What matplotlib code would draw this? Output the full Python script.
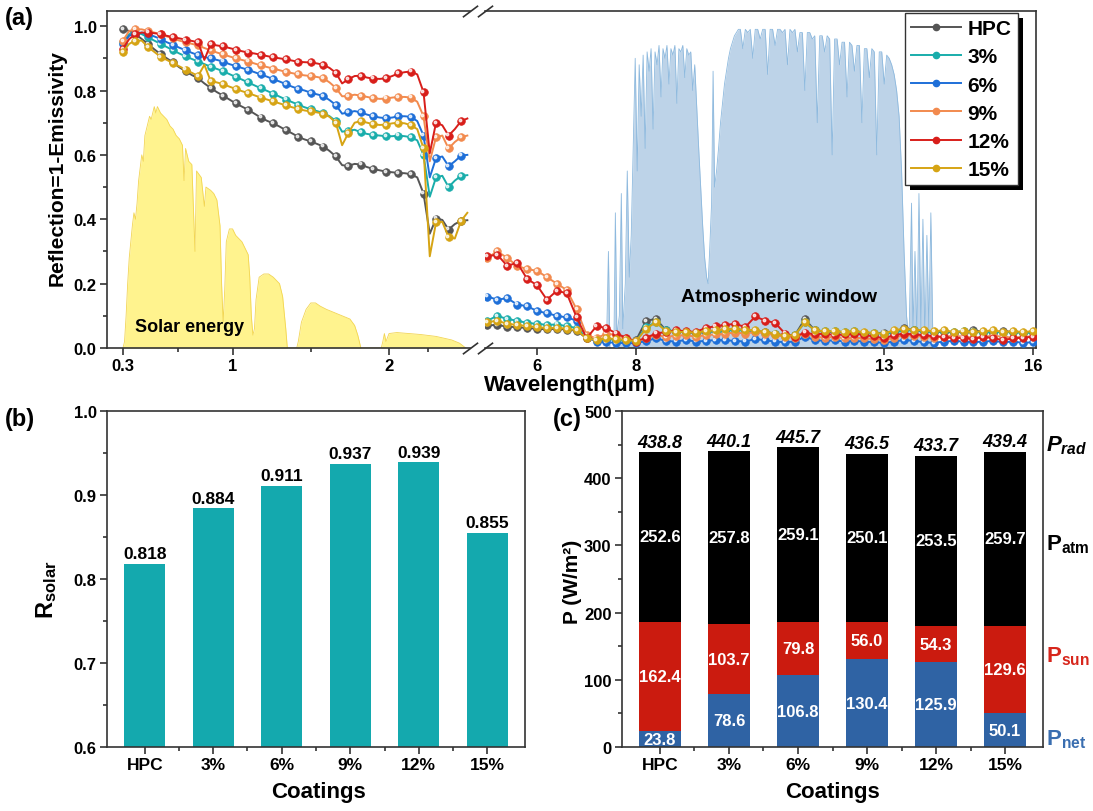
import matplotlib
matplotlib.use('Agg')
import numpy as np
import matplotlib.pyplot as plt
from matplotlib.lines import Line2D
from matplotlib.patches import Rectangle
from matplotlib.transforms import offset_copy, blended_transform_factory

plt.rcParams['font.family'] = ['Liberation Sans', 'DejaVu Sans']
plt.rcParams['font.weight'] = 'bold'
plt.rcParams['mathtext.fontset'] = 'custom'
plt.rcParams['mathtext.rm'] = 'Liberation Sans:bold'
plt.rcParams['mathtext.it'] = 'Liberation Sans:italic:bold'
plt.rcParams['mathtext.bf'] = 'Liberation Sans:bold'

# ---------------- data ----------------
names = ['HPC', '3%', '6%', '9%', '12%', '15%']
colors = ['#555555', '#19ADAB', '#1E6FD8', '#F28A4E', '#D81E1A', '#D6A414']

wl_left = [0.30, 0.34, 0.38, 0.42, 0.46, 0.50, 0.54, 0.58, 0.62, 0.66,
           0.70, 0.74, 0.78, 0.82, 0.86, 0.90, 0.94, 0.98, 1.02, 1.06,
           1.10, 1.14, 1.18, 1.22, 1.26, 1.30, 1.34, 1.38, 1.42, 1.46,
           1.50, 1.54, 1.58, 1.62, 1.66, 1.70, 1.74, 1.78, 1.82, 1.86,
           1.90, 1.94, 1.98, 2.02, 2.06, 2.10, 2.14, 2.18, 2.22, 2.26,
           2.30, 2.34, 2.38, 2.42, 2.46, 2.50]

hpc_left = [0.990, 0.985, 0.975, 0.960, 0.945, 0.928, 0.913, 0.900, 0.887, 0.872,
            0.860, 0.848, 0.838, 0.822, 0.808, 0.795, 0.784, 0.772, 0.760, 0.750,
            0.740, 0.728, 0.716, 0.706, 0.698, 0.688, 0.677, 0.667, 0.656, 0.648,
            0.642, 0.634, 0.626, 0.612, 0.595, 0.568, 0.566, 0.572, 0.570, 0.562,
            0.556, 0.552, 0.548, 0.546, 0.544, 0.543, 0.540, 0.530, 0.480, 0.355,
            0.402, 0.398, 0.368, 0.385, 0.395, 0.397]
p3_left = [0.950, 0.975, 0.980, 0.975, 0.965, 0.955, 0.945, 0.935, 0.925, 0.915,
           0.906, 0.898, 0.890, 0.882, 0.874, 0.867, 0.860, 0.851, 0.842, 0.834,
           0.825, 0.816, 0.807, 0.799, 0.790, 0.781, 0.772, 0.764, 0.756, 0.748,
           0.742, 0.736, 0.730, 0.720, 0.705, 0.672, 0.675, 0.678, 0.670, 0.665,
           0.662, 0.660, 0.658, 0.658, 0.660, 0.658, 0.655, 0.645, 0.600, 0.470,
           0.530, 0.535, 0.500, 0.520, 0.535, 0.537]
p6_left = [0.945, 0.970, 0.978, 0.980, 0.975, 0.968, 0.960, 0.950, 0.942, 0.933,
           0.925, 0.917, 0.910, 0.904, 0.900, 0.895, 0.890, 0.882, 0.876, 0.870,
           0.864, 0.857, 0.850, 0.843, 0.835, 0.828, 0.820, 0.812, 0.805, 0.800,
           0.793, 0.788, 0.783, 0.770, 0.755, 0.728, 0.732, 0.736, 0.732, 0.725,
           0.720, 0.716, 0.714, 0.716, 0.720, 0.720, 0.718, 0.705, 0.660, 0.530,
           0.590, 0.595, 0.565, 0.580, 0.598, 0.600]
p9_left = [0.955, 0.985, 0.990, 0.990, 0.985, 0.980, 0.975, 0.968, 0.962, 0.955,
           0.950, 0.945, 0.940, 0.932, 0.925, 0.918, 0.912, 0.906, 0.900, 0.895,
           0.890, 0.884, 0.878, 0.873, 0.868, 0.863, 0.858, 0.854, 0.850, 0.847,
           0.845, 0.842, 0.838, 0.825, 0.808, 0.782, 0.783, 0.787, 0.784, 0.780,
           0.776, 0.774, 0.775, 0.778, 0.780, 0.780, 0.778, 0.765, 0.720, 0.580,
           0.655, 0.660, 0.620, 0.640, 0.655, 0.660]
p12_left = [0.930, 0.960, 0.975, 0.980, 0.980, 0.978, 0.975, 0.970, 0.966, 0.962,
            0.958, 0.954, 0.950, 0.895, 0.944, 0.940, 0.937, 0.932, 0.927, 0.922,
            0.918, 0.915, 0.911, 0.907, 0.903, 0.900, 0.897, 0.893, 0.889, 0.888,
            0.887, 0.884, 0.880, 0.870, 0.855, 0.822, 0.835, 0.845, 0.846, 0.840,
            0.837, 0.836, 0.838, 0.845, 0.853, 0.857, 0.859, 0.850, 0.795, 0.605,
            0.700, 0.692, 0.660, 0.680, 0.705, 0.713]
p15_left = [0.920, 0.945, 0.955, 0.955, 0.935, 0.920, 0.905, 0.895, 0.885, 0.875,
            0.865, 0.855, 0.845, 0.880, 0.830, 0.825, 0.820, 0.812, 0.805, 0.798,
            0.792, 0.785, 0.778, 0.772, 0.766, 0.760, 0.754, 0.748, 0.743, 0.738,
            0.735, 0.732, 0.728, 0.718, 0.700, 0.630, 0.668, 0.700, 0.705, 0.700,
            0.695, 0.693, 0.694, 0.698, 0.700, 0.698, 0.692, 0.680, 0.620, 0.285,
            0.390, 0.392, 0.345, 0.340, 0.395, 0.420]

wl_right = [5.0, 5.2, 5.4, 5.6, 5.8, 6.0, 6.2, 6.4, 6.6, 6.8,
            7.0, 7.2, 7.4, 7.6, 7.8, 8.0, 8.2, 8.4, 8.6, 8.8,
            9.0, 9.2, 9.4, 9.6, 9.8, 10.0, 10.2, 10.4, 10.6, 10.8,
            11.0, 11.2, 11.4, 11.6, 11.8, 12.0, 12.2, 12.4, 12.6, 12.8,
            13.0, 13.2, 13.4, 13.6, 13.8, 14.0, 14.2, 14.4, 14.6, 14.8,
            15.0, 15.2, 15.4, 15.6, 15.8, 16.0]

hpc_right = [0.070, 0.072, 0.066, 0.065, 0.062, 0.060, 0.058, 0.060, 0.057, 0.054,
             0.030, 0.024, 0.028, 0.026, 0.022, 0.025, 0.085, 0.090, 0.055, 0.050,
             0.050, 0.046, 0.050, 0.052, 0.055, 0.058, 0.055, 0.052, 0.050, 0.045,
             0.038, 0.040, 0.090, 0.055, 0.050, 0.050, 0.048, 0.050, 0.046, 0.045,
             0.048, 0.050, 0.062, 0.055, 0.052, 0.050, 0.050, 0.048, 0.050, 0.055,
             0.050, 0.048, 0.052, 0.050, 0.048, 0.050]
p3_right = [0.085, 0.100, 0.090, 0.085, 0.078, 0.075, 0.072, 0.073, 0.068, 0.062,
            0.032, 0.025, 0.028, 0.026, 0.022, 0.022, 0.065, 0.080, 0.055, 0.052,
            0.050, 0.048, 0.050, 0.052, 0.054, 0.056, 0.054, 0.052, 0.048, 0.042,
            0.036, 0.040, 0.080, 0.055, 0.052, 0.052, 0.050, 0.052, 0.048, 0.046,
            0.045, 0.048, 0.055, 0.055, 0.052, 0.050, 0.052, 0.050, 0.052, 0.050,
            0.048, 0.050, 0.048, 0.050, 0.046, 0.048]
p6_right = [0.160, 0.150, 0.155, 0.135, 0.130, 0.115, 0.108, 0.100, 0.095, 0.085,
            0.035, 0.020, 0.018, 0.016, 0.015, 0.015, 0.022, 0.030, 0.022, 0.020,
            0.025, 0.020, 0.022, 0.025, 0.024, 0.022, 0.020, 0.028, 0.024, 0.020,
            0.018, 0.020, 0.035, 0.025, 0.022, 0.024, 0.020, 0.022, 0.020, 0.018,
            0.016, 0.020, 0.025, 0.022, 0.018, 0.016, 0.020, 0.022, 0.020, 0.018,
            0.020, 0.022, 0.018, 0.020, 0.016, 0.018]
p9_right = [0.280, 0.300, 0.280, 0.255, 0.245, 0.240, 0.220, 0.200, 0.180, 0.120,
            0.040, 0.030, 0.045, 0.040, 0.030, 0.022, 0.030, 0.040, 0.035, 0.038,
            0.040, 0.035, 0.040, 0.042, 0.045, 0.048, 0.045, 0.050, 0.045, 0.040,
            0.035, 0.032, 0.045, 0.035, 0.032, 0.035, 0.030, 0.032, 0.030, 0.028,
            0.025, 0.032, 0.040, 0.038, 0.035, 0.032, 0.035, 0.038, 0.035, 0.032,
            0.035, 0.038, 0.035, 0.032, 0.035, 0.036]
p12_right = [0.285, 0.290, 0.255, 0.265, 0.215, 0.195, 0.150, 0.178, 0.170, 0.095,
             0.030, 0.068, 0.062, 0.045, 0.032, 0.020, 0.032, 0.045, 0.050, 0.055,
             0.052, 0.050, 0.062, 0.068, 0.072, 0.075, 0.065, 0.098, 0.085, 0.078,
             0.045, 0.035, 0.048, 0.042, 0.045, 0.040, 0.042, 0.045, 0.040, 0.036,
             0.030, 0.040, 0.045, 0.042, 0.040, 0.036, 0.035, 0.030, 0.032, 0.028,
             0.035, 0.030, 0.025, 0.030, 0.032, 0.035]
p15_right = [0.080, 0.085, 0.075, 0.072, 0.068, 0.065, 0.062, 0.063, 0.060, 0.055,
             0.030, 0.025, 0.030, 0.028, 0.025, 0.022, 0.060, 0.080, 0.052, 0.050,
             0.050, 0.048, 0.052, 0.055, 0.058, 0.060, 0.056, 0.055, 0.050, 0.045,
             0.038, 0.040, 0.080, 0.055, 0.052, 0.052, 0.050, 0.052, 0.050, 0.046,
             0.045, 0.055, 0.060, 0.056, 0.055, 0.052, 0.055, 0.050, 0.052, 0.050,
             0.052, 0.055, 0.050, 0.052, 0.050, 0.052]

left_sets = [hpc_left, p3_left, p6_left, p9_left, p12_left, p15_left]
right_sets = [hpc_right, p3_right, p6_right, p9_right, p12_right, p15_right]

# solar spectrum (normalised, drawn as the yellow background)
solar_wl = [0.30, 0.31, 0.32, 0.33, 0.34, 0.35, 0.36, 0.37, 0.38, 0.39,
            0.40, 0.41, 0.42, 0.43, 0.44, 0.45, 0.46, 0.47, 0.48, 0.49,
            0.50, 0.51, 0.52, 0.53, 0.54, 0.56, 0.58, 0.60, 0.62, 0.64,
            0.66, 0.68, 0.69, 0.70, 0.72, 0.74, 0.76, 0.77, 0.80, 0.82,
            0.83, 0.86, 0.88, 0.90, 0.92, 0.93, 0.94, 0.95, 0.96, 0.98,
            1.00, 1.02, 1.04, 1.06, 1.08, 1.10, 1.11, 1.12, 1.13, 1.14,
            1.15, 1.17, 1.20, 1.23, 1.26, 1.28, 1.30, 1.32, 1.34, 1.35,
            1.41, 1.42, 1.44, 1.47, 1.50, 1.53, 1.56, 1.60, 1.65, 1.70,
            1.75, 1.78, 1.80, 1.82, 1.95, 1.96, 1.97, 1.98, 2.00, 2.05,
            2.10, 2.20, 2.30, 2.40, 2.45, 2.49]
solar_irr = [0.00, 0.02, 0.10, 0.20, 0.28, 0.33, 0.38, 0.42, 0.40, 0.45,
             0.52, 0.56, 0.60, 0.58, 0.66, 0.68, 0.70, 0.72, 0.71, 0.73,
             0.75, 0.73, 0.75, 0.74, 0.73, 0.72, 0.71, 0.69, 0.68, 0.66,
             0.65, 0.63, 0.52, 0.62, 0.58, 0.57, 0.30, 0.55, 0.53, 0.44,
             0.50, 0.49, 0.48, 0.46, 0.38, 0.20, 0.08, 0.18, 0.33, 0.37,
             0.37, 0.35, 0.34, 0.33, 0.31, 0.29, 0.22, 0.10, 0.04, 0.06,
             0.15, 0.22, 0.23, 0.23, 0.22, 0.21, 0.20, 0.16, 0.06, 0.00,
             0.00, 0.02, 0.08, 0.12, 0.14, 0.14, 0.13, 0.12, 0.11, 0.10,
             0.09, 0.07, 0.04, 0.00, 0.00, 0.02, 0.045, 0.02, 0.045, 0.048,
             0.046, 0.042, 0.036, 0.025, 0.015, 0.00]

# atmospheric transmittance (blue background)
atm_wl = [7.30, 7.40, 7.44, 7.47, 7.55, 7.58, 7.61, 7.66, 7.70, 7.73,
          7.78, 7.82, 7.86, 7.90, 7.94, 7.98, 8.02, 8.06, 8.10, 8.14,
          8.18, 8.22, 8.26, 8.30, 8.34, 8.38, 8.42, 8.46, 8.50, 8.54,
          8.58, 8.62, 8.66, 8.70, 8.74, 8.78, 8.82, 8.86, 8.90, 8.94,
          8.98, 9.02, 9.06, 9.10, 9.14, 9.18, 9.22, 9.26, 9.30, 9.34,
          9.38, 9.42, 9.45, 9.48, 9.52, 9.55, 9.58, 9.62, 9.66, 9.70,
          9.74, 9.78, 9.82, 9.86, 9.90, 9.94, 9.98, 10.02, 10.06, 10.10,
          10.15, 10.20, 10.25, 10.30, 10.35, 10.40, 10.45, 10.50, 10.55, 10.60,
          10.65, 10.70, 10.75, 10.80, 10.85, 10.90, 10.95, 11.00, 11.05, 11.10,
          11.15, 11.20, 11.25, 11.30, 11.35, 11.40, 11.45, 11.50, 11.55, 11.60,
          11.65, 11.70, 11.75, 11.80, 11.85, 11.90, 11.95, 12.00, 12.05, 12.10,
          12.15, 12.20, 12.25, 12.30, 12.35, 12.40, 12.45, 12.50, 12.55, 12.60,
          12.65, 12.70, 12.75, 12.80, 12.85, 12.90, 12.95, 13.00, 13.05, 13.10,
          13.15, 13.20, 13.25, 13.30, 13.35, 13.40, 13.45, 13.50, 13.55, 13.58,
          13.62, 13.66, 13.70, 13.74, 13.78, 13.82, 13.86, 13.90, 13.94, 13.98,
          14.02]
atm_trans = [0.00, 0.00, 0.30, 0.00, 0.00, 0.42, 0.04, 0.10, 0.48, 0.06,
             0.20, 0.55, 0.22, 0.35, 0.62, 0.90, 0.55, 0.88, 0.72, 0.91,
             0.62, 0.92, 0.86, 0.93, 0.68, 0.92, 0.88, 0.94, 0.78, 0.93,
             0.90, 0.94, 0.82, 0.93, 0.91, 0.94, 0.76, 0.93, 0.92, 0.94,
             0.84, 0.93, 0.91, 0.92, 0.80, 0.88, 0.75, 0.62, 0.50, 0.38,
             0.28, 0.22, 0.20, 0.30, 0.45, 0.86, 0.50, 0.55, 0.62, 0.70,
             0.76, 0.82, 0.86, 0.90, 0.93, 0.95, 0.97, 0.98, 0.99, 0.99,
             0.93, 0.99, 0.98, 0.99, 0.90, 0.99, 0.99, 0.96, 0.99, 0.99,
             0.85, 0.99, 0.99, 0.94, 0.99, 0.99, 0.98, 0.99, 0.88, 0.99,
             0.98, 0.99, 0.92, 0.98, 0.98, 0.80, 0.98, 0.98, 0.96, 0.97,
             0.70, 0.97, 0.97, 0.92, 0.97, 0.96, 0.60, 0.96, 0.96, 0.88,
             0.95, 0.95, 0.78, 0.95, 0.94, 0.86, 0.94, 0.94, 0.70, 0.93,
             0.93, 0.84, 0.93, 0.92, 0.60, 0.92, 0.92, 0.82, 0.91, 0.90,
             0.88, 0.85, 0.80, 0.72, 0.55, 0.30, 0.10, 0.02, 0.45, 0.05,
             0.30, 0.02, 0.48, 0.05, 0.40, 0.02, 0.35, 0.05, 0.42, 0.03,
             0.00]

coatings = ['HPC', '3%', '6%', '9%', '12%', '15%']
r_solar = [0.818, 0.884, 0.911, 0.937, 0.939, 0.855]

p_net = [23.8, 78.6, 106.8, 130.4, 125.9, 50.1]
p_sun = [162.4, 103.7, 79.8, 56.0, 54.3, 129.6]
p_atm = [252.6, 257.8, 259.1, 250.1, 253.5, 259.7]
p_rad = [438.8, 440.1, 445.7, 436.5, 433.7, 439.4]

# ---------------- figure ----------------
W, H = 1093, 812
fig = plt.figure(figsize=(W / 100, H / 100), dpi=100)


def box(x0, y0, x1, y1):
    return [x0 / W, 1 - y1 / H, (x1 - x0) / W, (y1 - y0) / H]


def style(ax):
    for s in ax.spines.values():
        s.set_linewidth(1.2)
        s.set_color('#333333')
    ax.tick_params(which='both', direction='out', width=1.2, color='#333333', labelsize=12, pad=2.5)
    ax.tick_params(which='major', length=5)
    ax.tick_params(which='minor', length=3)


ax_l = fig.add_axes(box(107, 12, 470, 349))
ax_r = fig.add_axes(box(485, 12, 1036, 349))
ax_b = fig.add_axes(box(107, 412, 525, 748))
ax_c = fig.add_axes(box(622, 412, 1043, 748))

# ---- (a) spectra, broken x axis ----
ax_l.fill_between(solar_wl, solar_irr, color='#FFF38E', lw=0, zorder=1)
ax_l.plot(solar_wl, solar_irr, color='#F2D552', lw=0.6, zorder=1.1)
ax_r.fill_between(atm_wl, atm_trans, color='#BDD3E8', lw=0, zorder=1)
ax_r.plot(atm_wl, atm_trans, color='#8DB9DE', lw=0.6, zorder=1.1)

for col, yl, yr in zip(colors, left_sets, right_sets):
    for ax, xs, ys, step in [(ax_l, wl_left, yl, 2), (ax_r, wl_right, yr, 1)]:
        ax.plot(xs, ys, color=col, lw=1.4, marker='o', ms=5.5, markevery=step,
                mfc=col, mec=col, mew=0.5, zorder=3)
        hl = offset_copy(ax.transData, fig=fig, x=-0.8, y=0.8, units='points')
        ax.plot(xs[::step], ys[::step], ls='none', marker='o', ms=1.8, color='white',
                alpha=0.75, transform=hl, zorder=3)

for ax in (ax_l, ax_r):
    style(ax)
    ax.set_ylim(0, 1.047)
ax_l.set_xlim(0.198, 2.517)
ax_r.set_xlim(4.952, 16.06)
ax_l.spines['right'].set_visible(False)
ax_r.spines['left'].set_visible(False)
ax_r.tick_params(axis='y', which='both', left=False, labelleft=False)
ax_l.set_yticks([0.0, 0.2, 0.4, 0.6, 0.8, 1.0])
ax_l.set_yticks([0.1, 0.3, 0.5, 0.7, 0.9], minor=True)
ax_l.set_xticks([0.3, 1, 2], ['0.3', '1', '2'])
ax_l.set_xticks([0.65, 1.5, 2.25], minor=True)
ax_r.set_xticks([6, 8, 13, 16])
ax_l.yaxis.set_major_formatter(matplotlib.ticker.FormatStrFormatter('%.1f'))

brk = dict(marker=[(-1, -0.75), (1, 0.75)], markersize=11, linestyle='none',
           color='#333333', mec='#333333', mew=1.2, clip_on=False, zorder=6)
ax_l.plot([1, 1], [0, 1], transform=ax_l.transAxes, **brk)
ax_r.plot([0, 0], [0, 1], transform=ax_r.transAxes, **brk)

ax_l.text(0.377, 0.068, 'Solar energy', fontsize=13, fontweight='bold', va='center', zorder=4)
ax_r.text(10.88, 0.16, 'Atmospheric window', fontsize=14, fontweight='bold',
          ha='center', va='center', zorder=4)

handles = [Line2D([], [], color=c, lw=1.4, marker='o', ms=4.5) for c in colors]
leg = ax_r.legend(handles, names, loc='upper right', bbox_to_anchor=(0.967, 0.994),
                  borderaxespad=0, prop={'weight': 'bold', 'size': 15},
                  handlelength=2.4, handletextpad=0.3, labelspacing=0.44,
                  borderpad=0.3, fancybox=False, edgecolor='#333333', framealpha=1)
leg.get_frame().set_linewidth(1.0)

# ---- (b) solar reflectance ----
xb = np.arange(len(coatings))
style(ax_b)
ax_b.bar(xb, r_solar, width=0.6, color='#14A9AE', zorder=2)
for x, v in zip(xb, r_solar):
    ax_b.text(x, v + 0.003, f'{v:.3f}', ha='center', va='bottom', fontsize=12.5, fontweight='bold')
ax_b.set_ylim(0.6, 1.0)
ax_b.set_xlim(-0.55, 5.55)
ax_b.set_yticks([0.6, 0.7, 0.8, 0.9, 1.0])
ax_b.set_yticks([0.65, 0.75, 0.85, 0.95], minor=True)
ax_b.set_xticks(xb, coatings)
ax_b.set_xticks(xb[:-1] + 0.5, minor=True)
ax_b.tick_params(axis='x', labelsize=12.5)

# ---- (c) cooling power ----
style(ax_c)
bot_sun = [a + b for a, b in zip(p_net, p_sun)]
ax_c.bar(xb, p_net, 0.6, color='#2F63A4', zorder=2)
ax_c.bar(xb, p_sun, 0.6, bottom=p_net, color='#CB1B0F', zorder=2)
ax_c.bar(xb, p_atm, 0.6, bottom=bot_sun, color='black', zorder=2)
for i, x in enumerate(xb):
    ax_c.text(x, p_net[i] / 2, f'{p_net[i]:.1f}', color='white', ha='center', va='center',
              fontsize=12, fontweight='bold', zorder=3)
    ax_c.text(x, p_net[i] + p_sun[i] / 2, f'{p_sun[i]:.1f}', color='white', ha='center',
              va='center', fontsize=12, fontweight='bold', zorder=3)
    ax_c.text(x, bot_sun[i] + p_atm[i] / 2, f'{p_atm[i]:.1f}', color='white', ha='center',
              va='center', fontsize=12, fontweight='bold', zorder=3)
    ax_c.text(x, p_rad[i] + 2, f'{p_rad[i]:.1f}', ha='center', va='bottom', fontsize=13,
              fontweight='bold', fontstyle='italic')
ax_c.set_ylim(0, 500)
ax_c.set_xlim(-0.55, 5.55)
ax_c.set_yticks([0, 100, 200, 300, 400, 500])
ax_c.set_yticks([50, 150, 250, 350, 450], minor=True)
ax_c.set_xticks(xb, coatings)
ax_c.set_xticks(xb[:-1] + 0.5, minor=True)
ax_c.tick_params(axis='x', labelsize=12.5)

side = blended_transform_factory(ax_c.transAxes, ax_c.transData)
ax_c.text(1.008, 450, r'$P_{rad}$', transform=side, fontsize=16, va='center', clip_on=False)
ax_c.text(1.008, 302, r'$\mathrm{P}_{\mathrm{atm}}$', transform=side, fontsize=16, va='center', clip_on=False)
ax_c.text(1.008, 136, r'$\mathrm{P}_{\mathrm{sun}}$', transform=side, fontsize=16, va='center',
          color='#D7261C', clip_on=False)
ax_c.text(1.008, 12, r'$\mathrm{P}_{\mathrm{net}}$', transform=side, fontsize=16, va='center',
          color='#3A6EB0', clip_on=False)

# ---- labels placed in pixel positions ----
def ftext(x, y, s, **kw):
    fig.text(x / W, 1 - y / H, s, fontweight='bold', **kw)


ftext(5, 18, '(a)', fontsize=17, va='center')
ftext(5, 420, '(b)', fontsize=17, va='center')
ftext(553, 420, '(c)', fontsize=17, va='center')
ftext(57, 168, 'Reflection=1-Emissivity', fontsize=15, rotation=90, ha='center', va='center')
ftext(484, 386, 'Wavelength(\u03bcm)', fontsize=16, va='center')
ftext(47, 590, r'$\mathrm{R}_{\mathrm{solar}}$', fontsize=17, rotation=90, ha='center', va='center')
ftext(318, 793, 'Coatings', fontsize=16, ha='center', va='center')
ftext(572, 582, 'P (W/m\u00b2)', fontsize=15, rotation=90, ha='center', va='center')
ftext(832, 793, 'Coatings', fontsize=16, ha='center', va='center')

# legend drop shadow
fig.canvas.draw()
bb = leg.get_frame().get_window_extent()
ax_r.add_patch(Rectangle((bb.x0 + 5, bb.y0 - 5), bb.width, bb.height, transform=None,
                         facecolor='black', edgecolor='none', zorder=4.9, clip_on=False))

fig.savefig('out.png', dpi=100)
